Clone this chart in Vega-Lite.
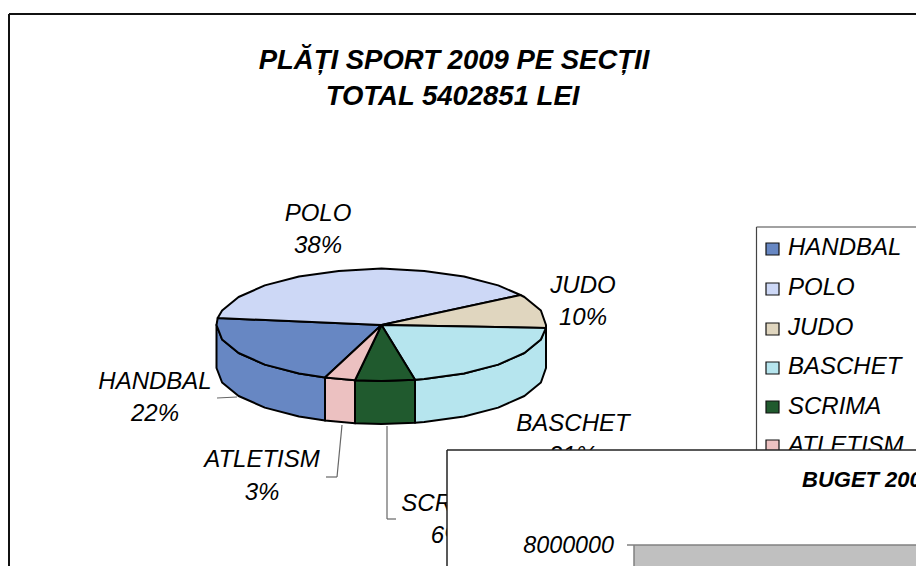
{"$schema":"https://vega.github.io/schema/vega-lite/v6.json","width":916,"height":566,"autosize":{"type":"fit","contains":"padding"},"padding":0,"background":"white","view":{"stroke":null},
"datasets":{
"frames":[{"x":9,"y":14,"x2":916,"y2":14},{"x":9,"y":14,"x2":9,"y2":566}],
"legendframe":[{"x":756.5,"y":227,"x2":916,"y2":227},{"x":756.5,"y":227,"x2":756.5,"y2":450}],
"leaders":[{"x":217,"y":398,"x2":237,"y2":397},{"x":342,"y":425,"x2":337,"y2":477},{"x":337,"y":477,"x2":326,"y2":477},{"x":387,"y":426,"x2":387,"y2":519},{"x":387,"y":519,"x2":396,"y2":519}],
"pie":[
{"section":"BASCHET","shape":"BASCHET side","order":0,"x":546,"y":325},{"section":"BASCHET","shape":"BASCHET side","order":1,"x":540.9,"y":339.5},{"section":"BASCHET","shape":"BASCHET side","order":2,"x":524.4,"y":353},{"section":"BASCHET","shape":"BASCHET side","order":3,"x":498.2,"y":364.6},{"section":"BASCHET","shape":"BASCHET side","order":4,"x":464,"y":373.5},{"section":"BASCHET","shape":"BASCHET side","order":5,"x":424.2,"y":379.1},{"section":"BASCHET","shape":"BASCHET side","order":6,"x":415,"y":379.8},{"section":"BASCHET","shape":"BASCHET side","order":7,"x":415,"y":422.8},{"section":"BASCHET","shape":"BASCHET side","order":8,"x":424.2,"y":422.1},{"section":"BASCHET","shape":"BASCHET side","order":9,"x":464,"y":416.5},{"section":"BASCHET","shape":"BASCHET side","order":10,"x":498.2,"y":407.6},{"section":"BASCHET","shape":"BASCHET side","order":11,"x":524.4,"y":396},{"section":"BASCHET","shape":"BASCHET side","order":12,"x":540.9,"y":382.5},{"section":"BASCHET","shape":"BASCHET side","order":13,"x":546,"y":368},{"section":"BASCHET","shape":"BASCHET side","order":14,"x":546,"y":325},
{"section":"SCRIMA","shape":"SCRIMA side","order":0,"x":415,"y":379.8},{"section":"SCRIMA","shape":"SCRIMA side","order":1,"x":381.5,"y":381},{"section":"SCRIMA","shape":"SCRIMA side","order":2,"x":355,"y":380.3},{"section":"SCRIMA","shape":"SCRIMA side","order":3,"x":355,"y":423.3},{"section":"SCRIMA","shape":"SCRIMA side","order":4,"x":381.5,"y":424},{"section":"SCRIMA","shape":"SCRIMA side","order":5,"x":415,"y":422.8},{"section":"SCRIMA","shape":"SCRIMA side","order":6,"x":415,"y":379.8},
{"section":"ATLETISM","shape":"ATLETISM side","order":0,"x":355,"y":380.3},{"section":"ATLETISM","shape":"ATLETISM side","order":1,"x":325,"y":377.6},{"section":"ATLETISM","shape":"ATLETISM side","order":2,"x":325,"y":420.6},{"section":"ATLETISM","shape":"ATLETISM side","order":3,"x":355,"y":423.3},{"section":"ATLETISM","shape":"ATLETISM side","order":4,"x":355,"y":380.3},
{"section":"HANDBAL","shape":"HANDBAL side","order":0,"x":325,"y":377.6},{"section":"HANDBAL","shape":"HANDBAL side","order":1,"x":299,"y":373.5},{"section":"HANDBAL","shape":"HANDBAL side","order":2,"x":264.8,"y":364.6},{"section":"HANDBAL","shape":"HANDBAL side","order":3,"x":238.6,"y":353},{"section":"HANDBAL","shape":"HANDBAL side","order":4,"x":222.1,"y":339.5},{"section":"HANDBAL","shape":"HANDBAL side","order":5,"x":216.5,"y":325},{"section":"HANDBAL","shape":"HANDBAL side","order":6,"x":216.5,"y":368},{"section":"HANDBAL","shape":"HANDBAL side","order":7,"x":222.1,"y":382.5},{"section":"HANDBAL","shape":"HANDBAL side","order":8,"x":238.6,"y":396},{"section":"HANDBAL","shape":"HANDBAL side","order":9,"x":264.8,"y":407.6},{"section":"HANDBAL","shape":"HANDBAL side","order":10,"x":299,"y":416.5},{"section":"HANDBAL","shape":"HANDBAL side","order":11,"x":325,"y":420.6},{"section":"HANDBAL","shape":"HANDBAL side","order":12,"x":325,"y":377.6},
{"section":"HANDBAL","shape":"HANDBAL top","order":0,"x":381.5,"y":325},{"section":"HANDBAL","shape":"HANDBAL top","order":1,"x":325,"y":377.6},{"section":"HANDBAL","shape":"HANDBAL top","order":2,"x":299,"y":373.5},{"section":"HANDBAL","shape":"HANDBAL top","order":3,"x":264.8,"y":364.6},{"section":"HANDBAL","shape":"HANDBAL top","order":4,"x":238.6,"y":353},{"section":"HANDBAL","shape":"HANDBAL top","order":5,"x":222.1,"y":339.5},{"section":"HANDBAL","shape":"HANDBAL top","order":6,"x":216.5,"y":325},{"section":"HANDBAL","shape":"HANDBAL top","order":7,"x":217.7,"y":318},{"section":"HANDBAL","shape":"HANDBAL top","order":8,"x":381.5,"y":325},
{"section":"POLO","shape":"POLO top","order":0,"x":381.5,"y":325},{"section":"POLO","shape":"POLO top","order":1,"x":217.7,"y":318},{"section":"POLO","shape":"POLO top","order":2,"x":222.1,"y":310.5},{"section":"POLO","shape":"POLO top","order":3,"x":238.6,"y":297},{"section":"POLO","shape":"POLO top","order":4,"x":264.8,"y":285.4},{"section":"POLO","shape":"POLO top","order":5,"x":299,"y":276.5},{"section":"POLO","shape":"POLO top","order":6,"x":338.8,"y":270.9},{"section":"POLO","shape":"POLO top","order":7,"x":381.5,"y":268.5},{"section":"POLO","shape":"POLO top","order":8,"x":424.2,"y":270.9},{"section":"POLO","shape":"POLO top","order":9,"x":464,"y":276.5},{"section":"POLO","shape":"POLO top","order":10,"x":498.2,"y":285.4},{"section":"POLO","shape":"POLO top","order":11,"x":520.5,"y":295},{"section":"POLO","shape":"POLO top","order":12,"x":381.5,"y":325},
{"section":"JUDO","shape":"JUDO top","order":0,"x":381.5,"y":325},{"section":"JUDO","shape":"JUDO top","order":1,"x":520.5,"y":295},{"section":"JUDO","shape":"JUDO top","order":2,"x":524.4,"y":297},{"section":"JUDO","shape":"JUDO top","order":3,"x":540.9,"y":310.5},{"section":"JUDO","shape":"JUDO top","order":4,"x":546,"y":325},{"section":"JUDO","shape":"JUDO top","order":5,"x":546,"y":328},{"section":"JUDO","shape":"JUDO top","order":6,"x":381.5,"y":325},
{"section":"BASCHET","shape":"BASCHET top","order":0,"x":381.5,"y":325},{"section":"BASCHET","shape":"BASCHET top","order":1,"x":546,"y":328},{"section":"BASCHET","shape":"BASCHET top","order":2,"x":540.9,"y":339.5},{"section":"BASCHET","shape":"BASCHET top","order":3,"x":524.4,"y":353},{"section":"BASCHET","shape":"BASCHET top","order":4,"x":498.2,"y":364.6},{"section":"BASCHET","shape":"BASCHET top","order":5,"x":464,"y":373.5},{"section":"BASCHET","shape":"BASCHET top","order":6,"x":424.2,"y":379.1},{"section":"BASCHET","shape":"BASCHET top","order":7,"x":415,"y":379.8},{"section":"BASCHET","shape":"BASCHET top","order":8,"x":381.5,"y":325},
{"section":"SCRIMA","shape":"SCRIMA top","order":0,"x":381.5,"y":325},{"section":"SCRIMA","shape":"SCRIMA top","order":1,"x":415,"y":379.8},{"section":"SCRIMA","shape":"SCRIMA top","order":2,"x":381.5,"y":381},{"section":"SCRIMA","shape":"SCRIMA top","order":3,"x":355,"y":380.3},{"section":"SCRIMA","shape":"SCRIMA top","order":4,"x":381.5,"y":325},
{"section":"ATLETISM","shape":"ATLETISM top","order":0,"x":381.5,"y":325},{"section":"ATLETISM","shape":"ATLETISM top","order":1,"x":355,"y":380.3},{"section":"ATLETISM","shape":"ATLETISM top","order":2,"x":325,"y":377.6},{"section":"ATLETISM","shape":"ATLETISM top","order":3,"x":381.5,"y":325}
],
"swatches":[{"section":"HANDBAL","x":766,"x2":779,"y":243,"y2":255},{"section":"POLO","x":766,"x2":779,"y":283,"y2":295},{"section":"JUDO","x":766,"x2":779,"y":323,"y2":335},{"section":"BASCHET","x":766,"x2":779,"y":362,"y2":374},{"section":"SCRIMA","x":766,"x2":779,"y":401,"y2":413},{"section":"ATLETISM","x":766,"x2":779,"y":440,"y2":452}],
"legendtext":[{"label":"HANDBAL","x":788,"y":255},{"label":"POLO","x":788,"y":295},{"label":"JUDO","x":788,"y":335},{"label":"BASCHET","x":788,"y":374},{"label":"SCRIMA","x":788,"y":414},{"label":"ATLETISM","x":788,"y":453}],
"labels":[{"label":"POLO","x":318,"y":221},{"label":"38%","x":318,"y":253},{"label":"JUDO","x":583,"y":293},{"label":"10%","x":583,"y":325},{"label":"HANDBAL","x":155,"y":389},{"label":"22%","x":155,"y":421},{"label":"ATLETISM","x":262,"y":467},{"label":"3%","x":262,"y":500},{"label":"BASCHET","x":573,"y":431},{"label":"21%","x":573,"y":463},{"label":"SCRIMA","x":448,"y":511},{"label":"6%","x":448,"y":543}],
"title":[{"label":"PLĂȚI SPORT 2009 PE SECȚII","x":454,"y":69},{"label":"TOTAL 5402851 LEI","x":452.5,"y":105}],
"cover":[{"x":447,"x2":916,"y":450,"y2":566}],
"coverlines":[{"x":447,"y":450,"x2":916,"y2":450},{"x":447,"y":450,"x2":447,"y2":566}],
"plot":[{"x":634,"x2":916,"y":545,"y2":566}],
"plotlines":[{"x":627,"y":545,"x2":916,"y2":545},{"x":634,"y":545,"x2":634,"y2":566}],
"buget":[{"label":"BUGET 2009","x":802,"y":487}],
"tick":[{"label":"8000000","x":614,"y":553}]
},
"encoding":{
"x":{"field":"x","type":"quantitative","scale":{"domain":[0,916],"nice":false,"zero":false},"axis":null},
"y":{"field":"y","type":"quantitative","scale":{"domain":[566,0],"nice":false,"zero":false},"axis":null}
},
"layer":[
{"data":{"name":"frames"},"mark":{"type":"rule","stroke":"#111111","strokeWidth":2,"clip":true},"encoding":{"x2":{"field":"x2"},"y2":{"field":"y2"}}},
{"data":{"name":"legendframe"},"mark":{"type":"rule","stroke":"#444444","strokeWidth":1.2,"clip":true},"encoding":{"x2":{"field":"x2"},"y2":{"field":"y2"}}},
{"data":{"name":"leaders"},"mark":{"type":"rule","stroke":"#666666","strokeWidth":1.2,"clip":true},"encoding":{"x2":{"field":"x2"},"y2":{"field":"y2"}}},
{"data":{"name":"pie"},"mark":{"type":"line","stroke":"#000000","strokeWidth":2,"strokeJoin":"round","interpolate":"linear","clip":true},"encoding":{"detail":{"field":"shape"},"order":{"field":"order","type":"quantitative"},"fill":{"field":"section","type":"nominal","legend":null,"scale":{"domain":["HANDBAL","POLO","JUDO","BASCHET","SCRIMA","ATLETISM"],"range":["#6787c3","#cdd8f6","#e0d6bf","#b6e5ee","#205a2e","#ecc1c1"]}}}},
{"data":{"name":"swatches"},"mark":{"type":"rect","stroke":"#111111","strokeWidth":1.2,"clip":true},"encoding":{"x2":{"field":"x2"},"y2":{"field":"y2"},"fill":{"field":"section","type":"nominal","legend":null}}},
{"data":{"name":"legendtext"},"mark":{"type":"text","align":"left","baseline":"alphabetic","font":"Liberation Sans","fontStyle":"italic","fontSize":24,"fill":"#000000","clip":true},"encoding":{"text":{"field":"label"}}},
{"data":{"name":"labels"},"mark":{"type":"text","align":"center","baseline":"alphabetic","font":"Liberation Sans","fontStyle":"italic","fontSize":24,"fill":"#000000","clip":true},"encoding":{"text":{"field":"label"}}},
{"data":{"name":"title"},"mark":{"type":"text","align":"center","baseline":"alphabetic","font":"Liberation Sans","fontStyle":"italic","fontWeight":"bold","fontSize":27.5,"fill":"#000000","clip":true},"encoding":{"text":{"field":"label"}}},
{"data":{"name":"cover"},"mark":{"type":"rect","fill":"#ffffff","clip":true},"encoding":{"x2":{"field":"x2"},"y2":{"field":"y2"}}},
{"data":{"name":"coverlines"},"mark":{"type":"rule","stroke":"#222222","strokeWidth":1.5,"clip":true},"encoding":{"x2":{"field":"x2"},"y2":{"field":"y2"}}},
{"data":{"name":"plot"},"mark":{"type":"rect","fill":"#c0c0c0","clip":true},"encoding":{"x2":{"field":"x2"},"y2":{"field":"y2"}}},
{"data":{"name":"plotlines"},"mark":{"type":"rule","stroke":"#808080","strokeWidth":1.5,"clip":true},"encoding":{"x2":{"field":"x2"},"y2":{"field":"y2"}}},
{"data":{"name":"buget"},"mark":{"type":"text","align":"left","baseline":"alphabetic","font":"Liberation Sans","fontStyle":"italic","fontWeight":"bold","fontSize":22,"fill":"#000000","clip":true},"encoding":{"text":{"field":"label"}}},
{"data":{"name":"tick"},"mark":{"type":"text","align":"right","baseline":"alphabetic","font":"Liberation Sans","fontStyle":"italic","fontSize":23.3,"fill":"#000000","clip":true},"encoding":{"text":{"field":"label"}}}
]}
